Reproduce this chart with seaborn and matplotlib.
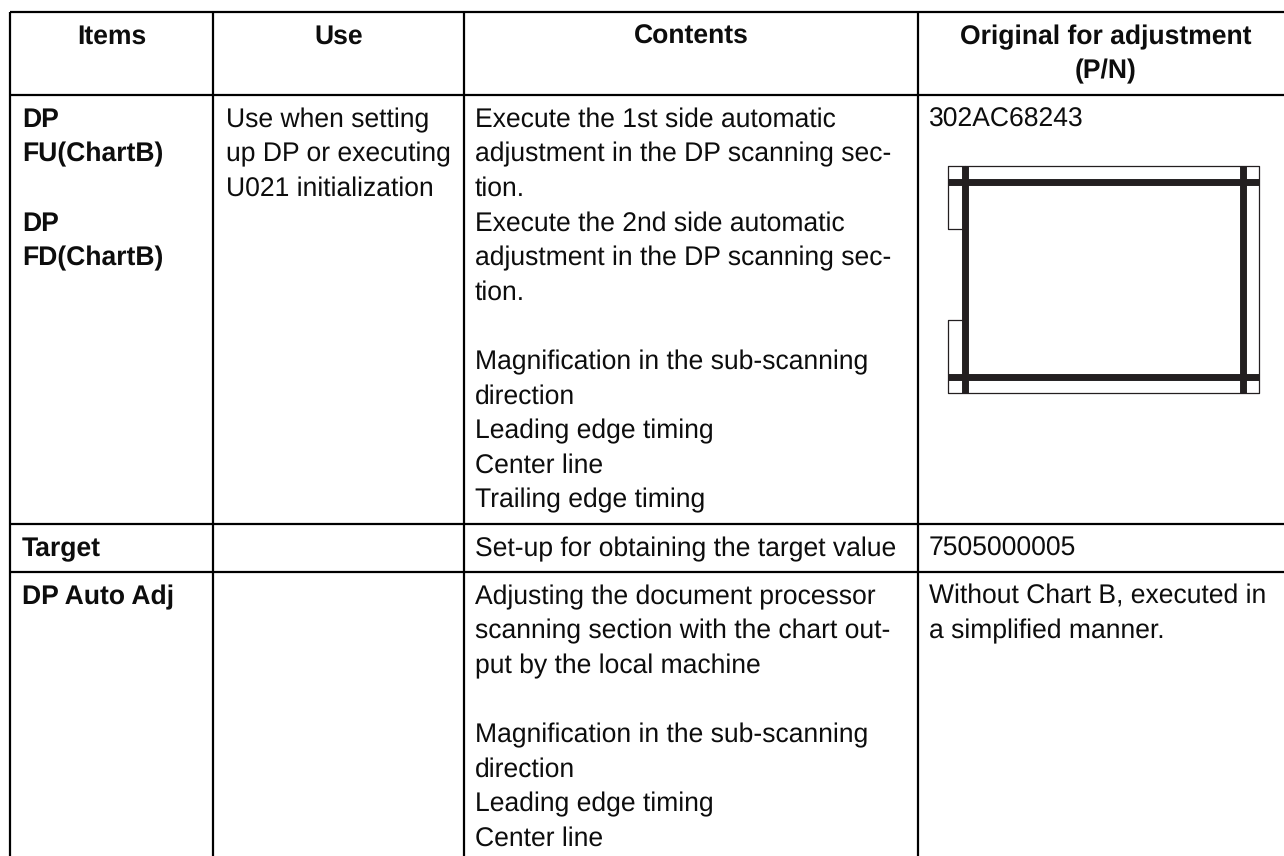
import matplotlib
matplotlib.use("Agg")
import matplotlib.pyplot as plt
import seaborn as sns

sns.set_theme(style="white")
plt.rcParams["font.family"] = ["Liberation Sans", "DejaVu Sans"]
plt.rcParams["text.hinting"] = "no_hinting"

W, H = 1284, 856
headers = ["Items", "Use", "Contents", "Original for adjustment\n(P/N)"]
items_1 = ["DP", "FU(ChartB)", "", "DP", "FD(ChartB)"]
use_1 = ["Use when setting", "up DP or executing", "U021 initialization"]
contents_1 = ["Execute the 1st side automatic", "adjustment in the DP scanning sec-", "tion.",
              "Execute the 2nd side automatic", "adjustment in the DP scanning sec-", "tion.", "",
              "Magnification in the sub-scanning", "direction", "Leading edge timing", "Center line",
              "Trailing edge timing"]
original_1 = "302AC68243"
items_2 = "Target"
contents_2 = "Set-up for obtaining the target value"
original_2 = "7505000005"
items_3 = "DP Auto Adj"
contents_3 = ["Adjusting the document processor", "scanning section with the chart out-",
              "put by the local machine", "", "Magnification in the sub-scanning", "direction",
              "Leading edge timing", "Center line"]
original_3 = ["Without Chart B, executed in", "a simplified manner."]

col_edges = [10, 213, 464, 918, 1294]
row_edges = [12, 95, 524, 571.5]

fig = plt.figure(figsize=(W / 100, H / 100), dpi=100)
ax = fig.add_axes([0, 0, 1, 1])
ax.set_xlim(0, W)
ax.set_ylim(H, 0)
ax.axis("off")

ax.vlines(col_edges, row_edges[0], H, color="black", lw=1.6)
ax.hlines(row_edges, col_edges[0], W, color="black", lw=1.6)

FS = 19.1
LEAD = 34.6
INK = "#0d0d0d"

def block(x, y, lines, bold=False):
    for i, s in enumerate(lines):
        if s:
            ax.text(x, y + i * LEAD, s, fontsize=FS, va="baseline", ha="left",
                    fontweight="bold" if bold else "normal", color=INK)

for i, h in enumerate(headers):
    cx = (col_edges[i] + col_edges[i + 1]) / 2
    for j, s in enumerate(h.split("\n")):
        ax.text(cx, 44 + j * LEAD, s, fontsize=FS, va="baseline", ha="center",
                fontweight="bold", color=INK)

block(22, 127, items_1, True)
block(226, 127, use_1)
block(475, 127, contents_1)
block(929, 127, [original_1])
block(22, 556, [items_2], True)
block(475, 556, [contents_2])
block(929, 556, [original_2])
block(22, 604, [items_3], True)
block(475, 604, contents_3)
block(929, 604, original_3)

# Adjustment chart diagram
L, R, T, B = 948, 1259, 165.5, 392.5
tab_top, tab_bot = 229, 320
ax_l, ax_r = 965, 1243
ay_t, ay_b = 182, 377
thin = dict(color="#231f20", lw=0.9)
ax.plot([ax_l, L, L, ax_l], [tab_top, tab_top, T, T], **thin)
ax.plot([ax_l, R, R, L, L, ax_l], [T, T, B, B, tab_bot, tab_bot], **thin)
thick = dict(color="#231f20", lw=5.0, solid_capstyle="butt")
ax.plot([L, R], [ay_t, ay_t], **thick)
ax.plot([L, R], [ay_b, ay_b], **thick)
ax.plot([ax_l, ax_l], [T, B], **thick)
ax.plot([ax_r, ax_r], [T, B], **thick)

fig.savefig("out.png", dpi=100, facecolor="white")
